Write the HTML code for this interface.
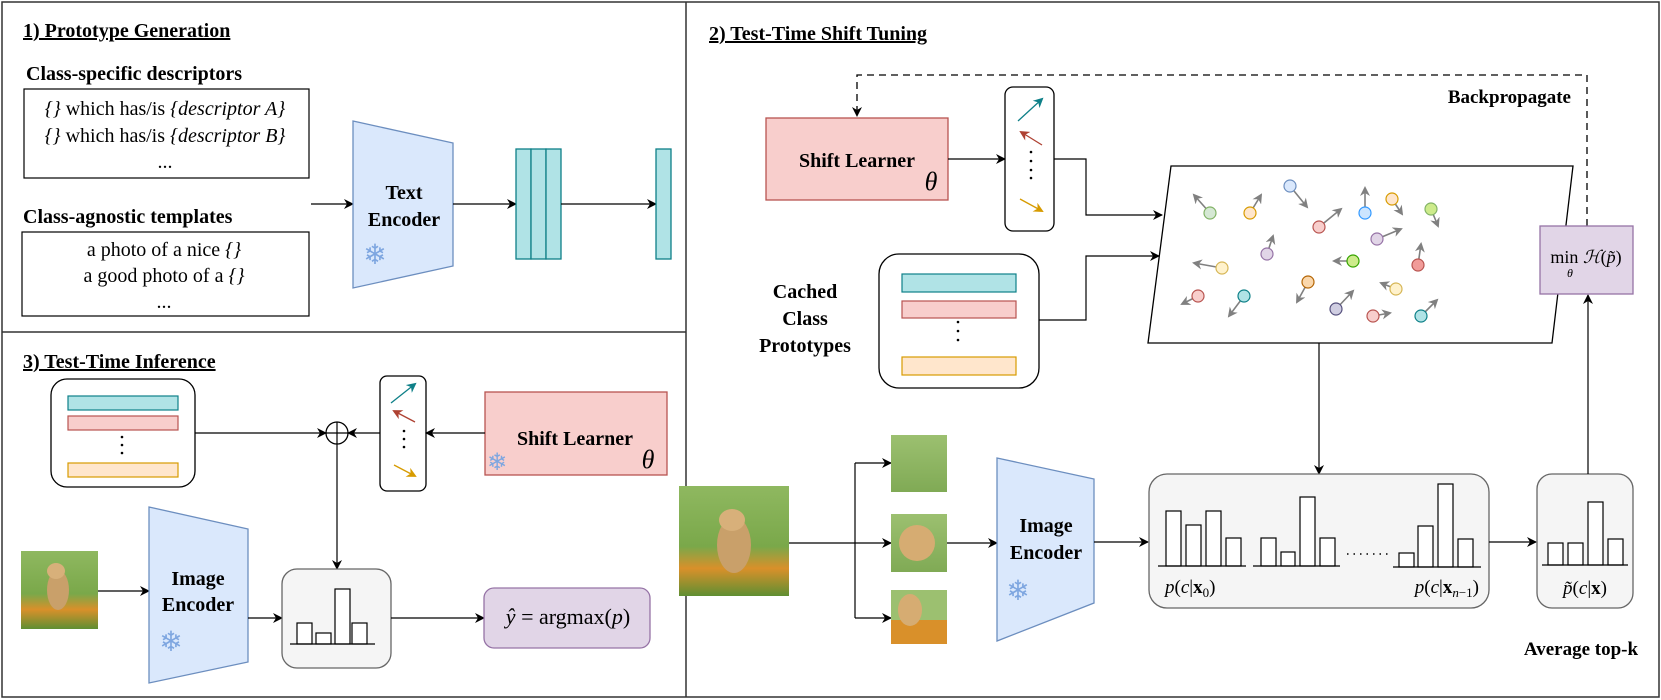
<!DOCTYPE html>
<html><head><meta charset="utf-8"><style>
html,body{margin:0;padding:0;background:#fff;}
svg{display:block;}
text{font-family:"Liberation Serif","DejaVu Serif",serif;fill:#000;}
.b{font-weight:bold;}
.i{font-style:italic;}
</style></head><body>
<svg width="1661" height="700" viewBox="0 0 1661 700" xmlns="http://www.w3.org/2000/svg">
<defs>
<marker id="a" markerWidth="10" markerHeight="10" refX="9" refY="5" orient="auto" markerUnits="userSpaceOnUse"><path d="M0,0 L10,5 L0,10 L3,5 z" fill="#000"/></marker>
<marker id="g" markerWidth="10" markerHeight="10" refX="8" refY="5" orient="auto" markerUnits="userSpaceOnUse"><path d="M0,0 L10,5 L0,10 L3,5 z" fill="#808080"/></marker>
<marker id="mt" markerWidth="10" markerHeight="10" refX="8" refY="5" orient="auto" markerUnits="userSpaceOnUse"><path d="M0,0 L10,5 L0,10 L3,5 z" fill="#0e8088"/></marker>
<marker id="mr" markerWidth="10" markerHeight="10" refX="8" refY="5" orient="auto" markerUnits="userSpaceOnUse"><path d="M0,0 L10,5 L0,10 L3,5 z" fill="#ae4132"/></marker>
<marker id="mo" markerWidth="10" markerHeight="10" refX="8" refY="5" orient="auto" markerUnits="userSpaceOnUse"><path d="M0,0 L10,5 L0,10 L3,5 z" fill="#d79b00"/></marker>
<linearGradient id="dogbg" x1="0" y1="0" x2="0" y2="1"><stop offset="0" stop-color="#8fb860"/><stop offset="0.55" stop-color="#7aa84a"/><stop offset="0.75" stop-color="#d9902a"/><stop offset="1" stop-color="#5f8f32"/></linearGradient>
<linearGradient id="crop" x1="0" y1="0" x2="0" y2="1"><stop offset="0" stop-color="#9cc070"/><stop offset="1" stop-color="#80aa55"/></linearGradient>
</defs>

<!-- frames -->
<rect x="2" y="2" width="1657" height="695" fill="none" stroke="#333" stroke-width="1.5"/>
<line x1="686" y1="2" x2="686" y2="697" stroke="#333" stroke-width="1.5"/>
<line x1="2" y1="332" x2="686" y2="332" stroke="#333" stroke-width="1.5"/>

<!-- PANEL 1 -->
<text x="23" y="37" class="b" font-size="20" text-decoration="underline">1) Prototype Generation</text>
<text x="26" y="80" class="b" font-size="20">Class-specific descriptors</text>
<rect x="24" y="89" width="285" height="89" fill="#fff" stroke="#000" stroke-width="1.2"/>
<text x="165" y="115" font-size="20" text-anchor="middle"><tspan class="i">{}</tspan> which has/is <tspan class="i">{descriptor A}</tspan></text>
<text x="165" y="142" font-size="20" text-anchor="middle"><tspan class="i">{}</tspan> which has/is <tspan class="i">{descriptor B}</tspan></text>
<text x="165" y="168" font-size="20" text-anchor="middle">...</text>
<text x="23" y="223" class="b" font-size="20">Class-agnostic templates</text>
<rect x="22" y="232" width="287" height="84" fill="#fff" stroke="#000" stroke-width="1.2"/>
<text x="164" y="256" font-size="20" text-anchor="middle">a photo of a nice <tspan class="i">{}</tspan></text>
<text x="164" y="282" font-size="20" text-anchor="middle">a good photo of a <tspan class="i">{}</tspan></text>
<text x="164" y="308" font-size="20" text-anchor="middle">...</text>
<line x1="311" y1="204" x2="353" y2="204" stroke="#000" stroke-width="1.3" marker-end="url(#a)"/>
<polygon points="353,121 453,143 453,266 353,288" fill="#dae8fc" stroke="#6c8ebf" stroke-width="1.3"/>
<text x="404" y="199" class="b" font-size="20" text-anchor="middle">Text</text>
<text x="404" y="226" class="b" font-size="20" text-anchor="middle">Encoder</text>
<text x="375" y="264" font-size="28" fill="#7ea6e0" text-anchor="middle" style="fill:#7ea6e0;font-family:'DejaVu Sans',sans-serif">❄</text>
<line x1="453" y1="204" x2="516" y2="204" stroke="#000" stroke-width="1.3" marker-end="url(#a)"/>
<rect x="516" y="149" width="15" height="110" fill="#b0e3e6" stroke="#0e8088" stroke-width="1.3"/>
<rect x="531" y="149" width="15" height="110" fill="#b0e3e6" stroke="#0e8088" stroke-width="1.3"/>
<rect x="546" y="149" width="15" height="110" fill="#b0e3e6" stroke="#0e8088" stroke-width="1.3"/>
<line x1="561" y1="204" x2="656" y2="204" stroke="#000" stroke-width="1.3" marker-end="url(#a)"/>
<rect x="656" y="149" width="15" height="110" fill="#b0e3e6" stroke="#0e8088" stroke-width="1.3"/>

<!-- PANEL 3 -->
<text x="23" y="368" class="b" font-size="20" text-decoration="underline">3) Test-Time Inference</text>
<rect x="51" y="379" width="144" height="108" rx="16" fill="#fff" stroke="#000" stroke-width="1.3"/>
<rect x="68" y="396" width="110" height="14" fill="#b0e3e6" stroke="#0e8088" stroke-width="1.2"/>
<rect x="68" y="416" width="110" height="14" fill="#f8cecc" stroke="#b85450" stroke-width="1.2"/>
<circle cx="122" cy="437" r="1.3" fill="#000"/><circle cx="122" cy="445" r="1.3" fill="#000"/><circle cx="122" cy="453" r="1.3" fill="#000"/>
<rect x="68" y="463" width="110" height="14" fill="#ffe6cc" stroke="#d79b00" stroke-width="1.2"/>
<line x1="195" y1="433" x2="326" y2="433" stroke="#000" stroke-width="1.2" marker-end="url(#a)"/>
<circle cx="337" cy="433" r="11" fill="#fff" stroke="#000" stroke-width="1.3"/>
<line x1="326" y1="433" x2="348" y2="433" stroke="#000" stroke-width="1.2"/>
<line x1="337" y1="422" x2="337" y2="444" stroke="#000" stroke-width="1.2"/>
<rect x="380" y="376" width="46" height="115" rx="7" fill="#fff" stroke="#000" stroke-width="1.3"/>
<line x1="391" y1="403" x2="415" y2="384" stroke="#0e8088" stroke-width="1.3" marker-end="url(#mt)"/>
<line x1="415" y1="422" x2="394" y2="411" stroke="#ae4132" stroke-width="1.3" marker-end="url(#mr)"/>
<circle cx="404" cy="431" r="1.3" fill="#000"/><circle cx="404" cy="439" r="1.3" fill="#000"/><circle cx="404" cy="447" r="1.3" fill="#000"/>
<line x1="394" y1="465" x2="415" y2="476" stroke="#d79b00" stroke-width="1.3" marker-end="url(#mo)"/>
<line x1="380" y1="433" x2="348" y2="433" stroke="#000" stroke-width="1.2" marker-end="url(#a)"/>
<rect x="485" y="392" width="182" height="83" fill="#f8cecc" stroke="#b85450" stroke-width="1.3"/>
<text x="575" y="445" class="b" font-size="20" text-anchor="middle">Shift Learner</text>
<text x="648" y="468" class="i" font-size="26" text-anchor="middle">θ</text>
<text x="497" y="470" font-size="24" text-anchor="middle" style="fill:#7ea6e0;font-family:'DejaVu Sans',sans-serif">❄</text>
<line x1="485" y1="433" x2="426" y2="433" stroke="#000" stroke-width="1.2" marker-end="url(#a)"/>
<line x1="337" y1="444" x2="337" y2="569" stroke="#000" stroke-width="1.2" marker-end="url(#a)"/>
<!-- dog small -->
<rect x="21" y="551" width="77" height="78" fill="url(#dogbg)"/>
<ellipse cx="58" cy="590" rx="11" ry="20" fill="#c9a06a"/><ellipse cx="56" cy="571" rx="9" ry="8" fill="#d8b07a"/>
<line x1="98" y1="591" x2="149" y2="591" stroke="#000" stroke-width="1.2" marker-end="url(#a)"/>
<polygon points="149,507 248,529 248,662 149,683" fill="#dae8fc" stroke="#6c8ebf" stroke-width="1.3"/>
<text x="198" y="585" class="b" font-size="20" text-anchor="middle">Image</text>
<text x="198" y="611" class="b" font-size="20" text-anchor="middle">Encoder</text>
<text x="171" y="651" font-size="28" text-anchor="middle" style="fill:#7ea6e0;font-family:'DejaVu Sans',sans-serif">❄</text>
<line x1="248" y1="618" x2="282" y2="618" stroke="#000" stroke-width="1.2" marker-end="url(#a)"/>
<rect x="282" y="569" width="109" height="99" rx="15" fill="#f5f5f5" stroke="#666" stroke-width="1.3"/>
<rect x="297" y="623" width="15" height="21" fill="#fff" stroke="#000" stroke-width="1.2"/>
<rect x="316" y="633" width="15" height="11" fill="#fff" stroke="#000" stroke-width="1.2"/>
<rect x="335" y="589" width="15" height="55" fill="#fff" stroke="#000" stroke-width="1.2"/>
<rect x="352" y="623" width="15" height="21" fill="#fff" stroke="#000" stroke-width="1.2"/>
<line x1="290" y1="644" x2="375" y2="644" stroke="#000" stroke-width="1.3"/>
<line x1="391" y1="618" x2="484" y2="618" stroke="#000" stroke-width="1.2" marker-end="url(#a)"/>
<rect x="484" y="588" width="166" height="60" rx="10" fill="#e1d5e7" stroke="#9673a6" stroke-width="1.3"/>
<text x="568" y="624" font-size="22" text-anchor="middle"><tspan class="i">ŷ</tspan> = argmax(<tspan class="i">p</tspan>)</text>

<!-- PANEL 2 -->
<text x="709" y="40" class="b" font-size="20" text-decoration="underline">2) Test-Time Shift Tuning</text>
<text x="1571" y="103" class="b" font-size="19" text-anchor="end">Backpropagate</text>
<polyline points="1587,226 1587,75 857,75 857,116" fill="none" stroke="#000" stroke-width="1.3" stroke-dasharray="7,5" marker-end="url(#a)"/>
<rect x="766" y="118" width="182" height="82" fill="#f8cecc" stroke="#b85450" stroke-width="1.3"/>
<text x="857" y="167" class="b" font-size="20" text-anchor="middle">Shift Learner</text>
<text x="931" y="190" class="i" font-size="26" text-anchor="middle">θ</text>
<line x1="948" y1="159" x2="1005" y2="159" stroke="#000" stroke-width="1.2" marker-end="url(#a)"/>
<rect x="1005" y="87" width="49" height="144" rx="8" fill="#fff" stroke="#000" stroke-width="1.3"/>
<line x1="1018" y1="121" x2="1042" y2="99" stroke="#0e8088" stroke-width="1.3" marker-end="url(#mt)"/>
<line x1="1042" y1="145" x2="1021" y2="132" stroke="#ae4132" stroke-width="1.3" marker-end="url(#mr)"/>
<circle cx="1031" cy="152" r="1.3" fill="#000"/><circle cx="1031" cy="161" r="1.3" fill="#000"/><circle cx="1031" cy="170" r="1.3" fill="#000"/><circle cx="1031" cy="178" r="1.3" fill="#000"/>
<line x1="1020" y1="199" x2="1042" y2="211" stroke="#d79b00" stroke-width="1.3" marker-end="url(#mo)"/>
<polyline points="1054,159 1086,159 1086,215 1162,215" fill="none" stroke="#000" stroke-width="1.2" marker-end="url(#a)"/>
<text x="805" y="298" class="b" font-size="20" text-anchor="middle">Cached</text>
<text x="805" y="325" class="b" font-size="20" text-anchor="middle">Class</text>
<text x="805" y="352" class="b" font-size="20" text-anchor="middle">Prototypes</text>
<rect x="879" y="254" width="160" height="134" rx="20" fill="#fff" stroke="#000" stroke-width="1.3"/>
<rect x="902" y="274" width="114" height="18" fill="#b0e3e6" stroke="#0e8088" stroke-width="1.2"/>
<rect x="902" y="301" width="114" height="17" fill="#f8cecc" stroke="#b85450" stroke-width="1.2"/>
<circle cx="958" cy="322" r="1.3" fill="#000"/><circle cx="958" cy="331" r="1.3" fill="#000"/><circle cx="958" cy="340" r="1.3" fill="#000"/>
<rect x="902" y="357" width="114" height="18" fill="#ffe6cc" stroke="#d79b00" stroke-width="1.2"/>
<polyline points="1039,320 1086,320 1086,256 1159,256" fill="none" stroke="#000" stroke-width="1.2" marker-end="url(#a)"/>
<polygon points="1171,166 1573,166 1552,343 1148,343" fill="#fff" stroke="#000" stroke-width="1.3"/>
<g stroke-width="1.2">
<line x1="1210" y1="213" x2="1194" y2="195" stroke="#808080" stroke-width="1.6" marker-end="url(#g)"/>
<circle cx="1210" cy="213" r="6" fill="#d5e8d4" stroke="#82b366"/>
<line x1="1250" y1="213" x2="1261" y2="195" stroke="#808080" stroke-width="1.6" marker-end="url(#g)"/>
<circle cx="1250" cy="213" r="6" fill="#ffe6cc" stroke="#d79b00"/>
<line x1="1290" y1="186" x2="1307" y2="207" stroke="#808080" stroke-width="1.6" marker-end="url(#g)"/>
<circle cx="1290" cy="186" r="6" fill="#dae8fc" stroke="#6c8ebf"/>
<line x1="1319" y1="227" x2="1341" y2="209" stroke="#808080" stroke-width="1.6" marker-end="url(#g)"/>
<circle cx="1319" cy="227" r="6" fill="#f8cecc" stroke="#b85450"/>
<line x1="1365" y1="213" x2="1365" y2="188" stroke="#808080" stroke-width="1.6" marker-end="url(#g)"/>
<circle cx="1365" cy="213" r="6" fill="#cce5ff" stroke="#3399ff"/>
<line x1="1392" y1="199" x2="1402" y2="214" stroke="#808080" stroke-width="1.6" marker-end="url(#g)"/>
<circle cx="1392" cy="199" r="6" fill="#ffe6cc" stroke="#d79b00"/>
<line x1="1377" y1="239" x2="1401" y2="229" stroke="#808080" stroke-width="1.6" marker-end="url(#g)"/>
<circle cx="1377" cy="239" r="6" fill="#e1d5e7" stroke="#9673a6"/>
<line x1="1267" y1="254" x2="1273" y2="236" stroke="#808080" stroke-width="1.6" marker-end="url(#g)"/>
<circle cx="1267" cy="254" r="6" fill="#e1d5e7" stroke="#9673a6"/>
<line x1="1222" y1="268" x2="1194" y2="263" stroke="#808080" stroke-width="1.6" marker-end="url(#g)"/>
<circle cx="1222" cy="268" r="6" fill="#fff2cc" stroke="#d6b656"/>
<line x1="1353" y1="261" x2="1334" y2="261" stroke="#808080" stroke-width="1.6" marker-end="url(#g)"/>
<circle cx="1353" cy="261" r="6" fill="#cdeb8b" stroke="#36a300"/>
<line x1="1198" y1="296" x2="1182" y2="304" stroke="#808080" stroke-width="1.6" marker-end="url(#g)"/>
<circle cx="1198" cy="296" r="6" fill="#f8cecc" stroke="#b85450"/>
<line x1="1244" y1="296" x2="1229" y2="316" stroke="#808080" stroke-width="1.6" marker-end="url(#g)"/>
<circle cx="1244" cy="296" r="6" fill="#b0e3e6" stroke="#0e8088"/>
<line x1="1308" y1="282" x2="1297" y2="302" stroke="#808080" stroke-width="1.6" marker-end="url(#g)"/>
<circle cx="1308" cy="282" r="6" fill="#fad7ac" stroke="#b46504"/>
<line x1="1396" y1="289" x2="1381" y2="283" stroke="#808080" stroke-width="1.6" marker-end="url(#g)"/>
<circle cx="1396" cy="289" r="6" fill="#fff2cc" stroke="#d6b656"/>
<line x1="1336" y1="309" x2="1353" y2="291" stroke="#808080" stroke-width="1.6" marker-end="url(#g)"/>
<circle cx="1336" cy="309" r="6" fill="#d0cee2" stroke="#56517e"/>
<line x1="1373" y1="316" x2="1390" y2="313" stroke="#808080" stroke-width="1.6" marker-end="url(#g)"/>
<circle cx="1373" cy="316" r="6" fill="#f8cecc" stroke="#b85450"/>
<line x1="1431" y1="209" x2="1438" y2="226" stroke="#808080" stroke-width="1.6" marker-end="url(#g)"/>
<circle cx="1431" cy="209" r="6" fill="#cdeb8b" stroke="#82b366"/>
<line x1="1418" y1="265" x2="1421" y2="244" stroke="#808080" stroke-width="1.6" marker-end="url(#g)"/>
<circle cx="1418" cy="265" r="6" fill="#f19c99" stroke="#b85450"/>
<line x1="1421" y1="316" x2="1437" y2="300" stroke="#808080" stroke-width="1.6" marker-end="url(#g)"/>
<circle cx="1421" cy="316" r="6" fill="#b0e3e6" stroke="#0e8088"/>
</g>
<line x1="1319" y1="343" x2="1319" y2="474" stroke="#000" stroke-width="1.2" marker-end="url(#a)"/>

<!-- dog big and crops -->
<rect x="679" y="486" width="110" height="110" fill="url(#dogbg)"/>
<ellipse cx="734" cy="545" rx="17" ry="28" fill="#c9a06a"/><ellipse cx="732" cy="520" rx="13" ry="11" fill="#d8b07a"/>
<line x1="789" y1="543" x2="855" y2="543" stroke="#000" stroke-width="1.2"/>
<line x1="855" y1="463" x2="855" y2="618" stroke="#000" stroke-width="1.2"/>
<line x1="855" y1="463" x2="891" y2="463" stroke="#000" stroke-width="1.2" marker-end="url(#a)"/>
<line x1="855" y1="543" x2="891" y2="543" stroke="#000" stroke-width="1.2" marker-end="url(#a)"/>
<line x1="855" y1="618" x2="891" y2="618" stroke="#000" stroke-width="1.2" marker-end="url(#a)"/>
<rect x="891" y="435" width="56" height="57" fill="url(#crop)"/>
<rect x="891" y="514" width="56" height="58" fill="url(#crop)"/>
<ellipse cx="917" cy="543" rx="18" ry="18" fill="#d6ac72"/>
<rect x="891" y="590" width="56" height="54" fill="#d9902a"/>
<rect x="891" y="590" width="56" height="30" fill="#9cc070"/>
<ellipse cx="910" cy="610" rx="12" ry="16" fill="#d6ac72"/>
<line x1="947" y1="543" x2="997" y2="543" stroke="#000" stroke-width="1.2" marker-end="url(#a)"/>
<polygon points="997,458 1094,479 1094,603 997,641" fill="#dae8fc" stroke="#6c8ebf" stroke-width="1.3"/>
<text x="1046" y="532" class="b" font-size="20" text-anchor="middle">Image</text>
<text x="1046" y="559" class="b" font-size="20" text-anchor="middle">Encoder</text>
<text x="1018" y="600" font-size="28" text-anchor="middle" style="fill:#7ea6e0;font-family:'DejaVu Sans',sans-serif">❄</text>
<line x1="1094" y1="542" x2="1148" y2="542" stroke="#000" stroke-width="1.2" marker-end="url(#a)"/>
<rect x="1149" y="474" width="340" height="134" rx="18" fill="#f5f5f5" stroke="#666" stroke-width="1.3"/>
<g fill="#fff" stroke="#000" stroke-width="1.2">
<rect x="1166" y="511" width="15" height="55"/><rect x="1186" y="525" width="15" height="41"/><rect x="1206" y="511" width="15" height="55"/><rect x="1226" y="538" width="15" height="28"/>
<rect x="1261" y="538" width="15" height="28"/><rect x="1281" y="552" width="14" height="14"/><rect x="1300" y="497" width="15" height="69"/><rect x="1320" y="538" width="15" height="28"/>
<rect x="1399" y="553" width="15" height="14"/><rect x="1418" y="526" width="15" height="41"/><rect x="1438" y="484" width="15" height="83"/><rect x="1458" y="539" width="15" height="28"/>
</g>
<line x1="1158" y1="566" x2="1246" y2="566" stroke="#000" stroke-width="1.3"/>
<line x1="1253" y1="566" x2="1340" y2="566" stroke="#000" stroke-width="1.3"/>
<line x1="1393" y1="567" x2="1481" y2="567" stroke="#000" stroke-width="1.3"/>
<line x1="1347" y1="554" x2="1392" y2="554" stroke="#000" stroke-width="1.5" stroke-dasharray="1.5,5"/>
<text x="1165" y="593" font-size="19"><tspan class="i">p</tspan>(<tspan class="i">c</tspan>|<tspan class="b">x</tspan><tspan font-size="13" dy="4">0</tspan><tspan dy="-4">)</tspan></text>
<text x="1479" y="593" font-size="19" text-anchor="end"><tspan class="i">p</tspan>(<tspan class="i">c</tspan>|<tspan class="b">x</tspan><tspan font-size="13" dy="4" class="i">n</tspan><tspan font-size="13">−1</tspan><tspan dy="-4">)</tspan></text>
<line x1="1489" y1="542" x2="1536" y2="542" stroke="#000" stroke-width="1.2" marker-end="url(#a)"/>
<rect x="1537" y="474" width="96" height="134" rx="15" fill="#f5f5f5" stroke="#666" stroke-width="1.3"/>
<g fill="#fff" stroke="#000" stroke-width="1.2">
<rect x="1548" y="543" width="15" height="22"/><rect x="1568" y="543" width="15" height="22"/><rect x="1588" y="502" width="15" height="63"/><rect x="1608" y="539" width="15" height="26"/>
</g>
<line x1="1542" y1="565" x2="1628" y2="565" stroke="#000" stroke-width="1.3"/>
<text x="1585" y="594" font-size="19" text-anchor="middle"><tspan class="i">p̃</tspan>(<tspan class="i">c</tspan>|<tspan class="b">x</tspan>)</text>
<line x1="1588" y1="474" x2="1588" y2="295" stroke="#000" stroke-width="1.2" marker-end="url(#a)"/>
<rect x="1540" y="226" width="93" height="68" fill="#e1d5e7" stroke="#9673a6" stroke-width="1.3"/>
<text x="1586" y="263" font-size="18" text-anchor="middle">min <tspan class="i">ℋ</tspan>(<tspan class="i">p̃</tspan>)</text>
<text x="1570" y="277" font-size="12" class="i" text-anchor="middle">θ</text>
<text x="1581" y="655" class="b" font-size="19" text-anchor="middle">Average top-k</text>
</svg>
</body></html>
